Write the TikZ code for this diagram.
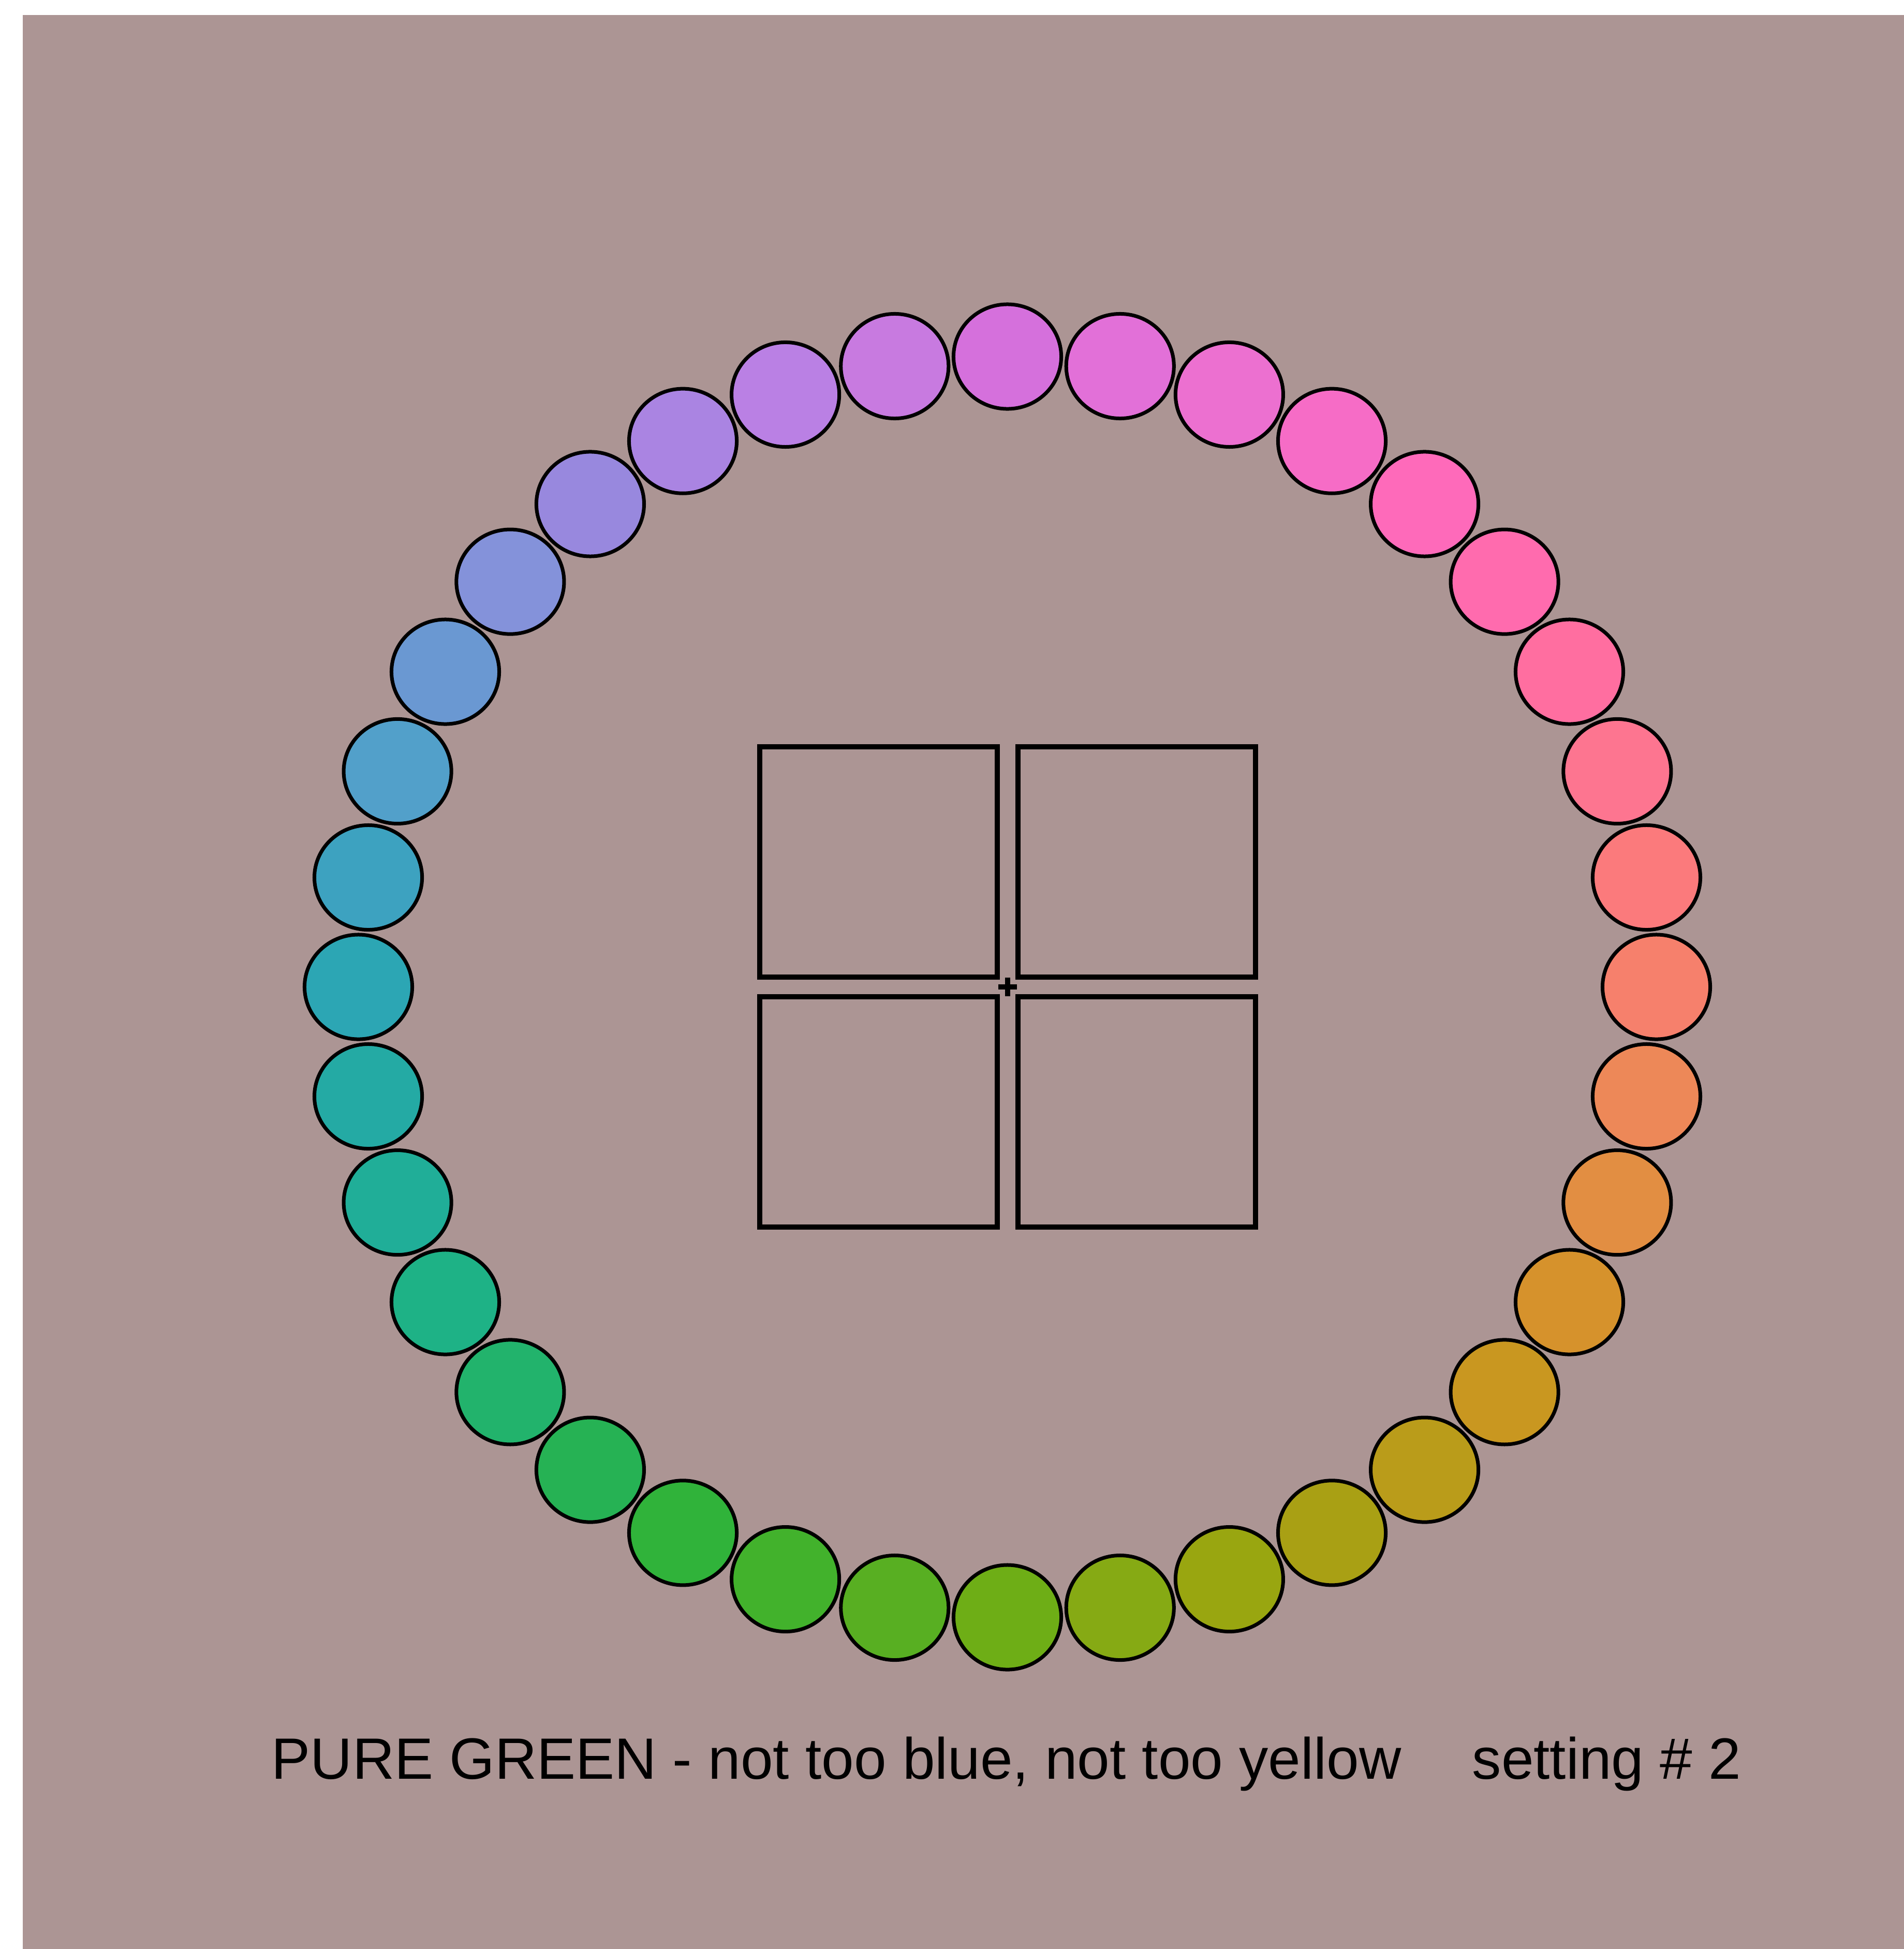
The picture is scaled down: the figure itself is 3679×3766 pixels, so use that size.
\documentclass[tikz,border=0pt]{standalone}
\usepackage{fontspec}
\setmainfont{Liberation Sans}
\definecolor{bgc}{HTML}{AC9594}
\tikzset{
  ringdot/.style={draw=black, line width=0.07cm},
  boxframe/.style={draw=black, line width=0.1cm},
  caption/.style={font=\fontsize{32}{38}\selectfont, text=black, inner sep=0pt, anchor=base west}
}
\begin{document}
\begin{tikzpicture}[x=0.01cm, y=-0.01cm]
\useasboundingbox (0,0) rectangle (3679,3766);
\fill[white] (0,0) rectangle (3679,3766);
\fill[bgc] (44,29) rectangle (3679,3766);
% ring of colour dots, clockwise from top
\foreach \c [count=\i from 0] in {D570DC,E270D8,EC70D0,F66CC6,FE6ABA,FF6BAE,FF6EA0,FD7590,FB7A7C,F6806C,ED8858,E28E42,D6922C,C99720,BA9C1A,A9A014,99A610,86AA14,6EAE16,58AF22,42B22C,30B33A,26B254,22B36C,1EB286,20AE98,24AAA4,2CA6B4,3DA2C0,52A0CA,6A98D2,8492DA,9888DE,AA84E2,BA80E4,C87AE0}{
  \definecolor{dotc}{HTML}{\c}
  \draw[ringdot, fill=dotc] ({1946.5+1254*cos(90-10*\i)},{1907-1218*sin(90-10*\i)}) ellipse [x radius=1.04cm, y radius=1.01cm];
}
% four squares
\draw[boxframe] (1468,1443) rectangle (1927,1888);
\draw[boxframe] (1967,1443) rectangle (2426,1888);
\draw[boxframe] (1468,1926) rectangle (1927,2371);
\draw[boxframe] (1967,1926) rectangle (2426,2371);
% fixation cross
\coordinate (cw) at (1929,1907);
\coordinate (ce) at (1965,1907);
\coordinate (cn) at (1947,1889);
\coordinate (cs) at (1947,1925);
\draw[line width=0.1cm] (cw) -- (ce);
\draw[line width=0.1cm] (cn) -- (cs);
% caption
\node[caption] (title) at (524,3437) {PURE GREEN - not too blue, not too yellow};
\node[caption] (setting) at (2844,3437) {setting \# 2};
\end{tikzpicture}
\end{document}
